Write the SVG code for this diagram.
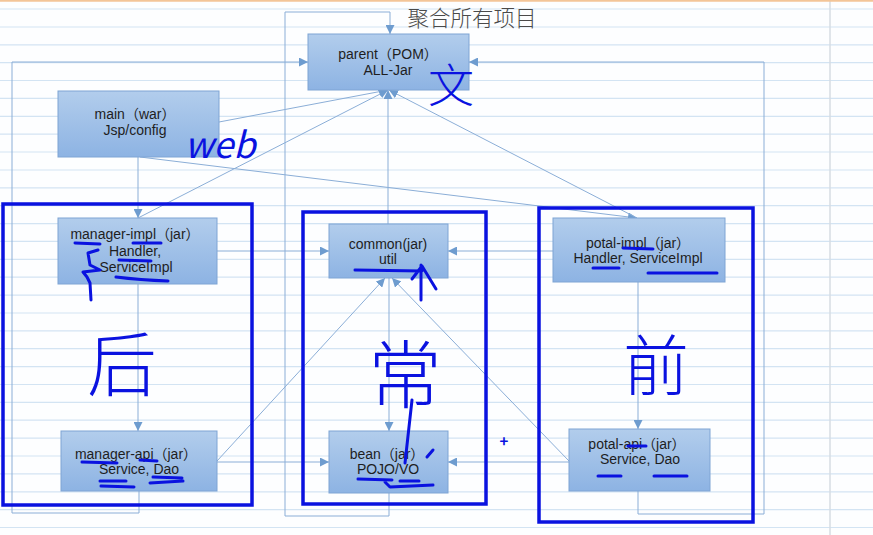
<svg xmlns="http://www.w3.org/2000/svg" width="873" height="535" viewBox="0 0 873 535">
<defs>
<linearGradient id="boxg" x1="0" y1="0" x2="0" y2="1">
<stop offset="0" stop-color="#B2CDEC"/>
<stop offset="1" stop-color="#8DB3E3"/>
</linearGradient>
<marker id="arr" markerUnits="userSpaceOnUse" markerWidth="10" markerHeight="9" refX="9" refY="4.5" orient="auto">
<path d="M0,0 L9,4.5 L0,9 z" fill="#6E9CCF"/>
</marker>
<style>
.paper{stroke:#D3E4F3;stroke-width:1.2;fill:none}
.box{fill:url(#boxg);stroke:#7EA4D4;stroke-width:1}
.t{font-family:"Liberation Sans","Noto Sans CJK SC",sans-serif;font-size:14px;fill:#1E1E1E;text-anchor:middle}
.c{fill:none;stroke:#8BAED7;stroke-width:1}
.ca{fill:none;stroke:#8BAED7;stroke-width:1;marker-end:url(#arr)}
.ink{fill:none;stroke:#0A12E0;stroke-width:3;stroke-linecap:round;stroke-linejoin:round}
.frame{fill:none;stroke:#0A12E0;stroke-width:3.5}
.hw{font-family:"Noto Sans CJK SC",sans-serif;fill:#0A12E0;text-anchor:middle}
</style>
</defs>
<rect x="0" y="0" width="873" height="535" fill="#FDFEFF"/>
<g id="paper">
<path class="paper" d="M0,9H873M0,27H873M0,44.8H873M0,62.6H873M0,80.5H873M0,98.4H873M0,116.3H873M0,134.2H873M0,152H873M0,170H873M0,187.8H873M0,205.7H873M0,223.6H873M0,241.4H873M0,259.3H873M0,277.2H873M0,295.1H873M0,313H873M0,330.8H873M0,348.7H873M0,366.6H873M0,384.5H873M0,402.4H873M0,420.2H873M0,438.1H873M0,456H873M0,473.9H873M0,491.8H873M0,509.6H873M0,527.5H873"/>
<line x1="830" y1="0" x2="830" y2="535" stroke="#D6DDE3" stroke-width="1.5"/>
<line x1="0" y1="0.8" x2="873" y2="0.8" stroke="#F3C598" stroke-width="1.8"/>
</g>
<text x="472" y="26" font-family="'Noto Sans CJK SC',sans-serif" font-size="21.5" font-weight="300" fill="#4A4A4A" text-anchor="middle">聚合所有项目</text>
<g id="connectors">
<path class="ca" d="M389,493 V516 H285 V12 H390 V34"/>
<path class="ca" d="M139,491 V513 H12 V62 H308"/>
<path class="ca" d="M638,491 V514 H764 V62 H469"/>
<path class="ca" d="M219,122 L388,90"/>
<path class="ca" d="M138,157 V218"/>
<path class="ca" d="M140,157 L637,218"/>
<path class="ca" d="M138,218 L388,90"/>
<path class="ca" d="M388,224 V90"/>
<path class="ca" d="M637,218 L389,90"/>
<path class="ca" d="M217,251 H329"/>
<path class="ca" d="M553,251 H448"/>
<path class="ca" d="M138,284 V431"/>
<path class="ca" d="M638,282 V429"/>
<path class="ca" d="M217,461 L385,278"/>
<path class="ca" d="M569,461 L392,278"/>
<path class="ca" d="M389,278 V431"/>
<path class="ca" d="M217,462 H329"/>
<path class="ca" d="M569,462 H448"/>
</g>
<g id="parent"><rect class="box" x="308" y="34" width="161" height="56"/><text class="t" x="388" y="59">parent（POM）</text><text class="t" x="388" y="75">ALL-Jar</text></g>
<g id="main"><rect class="box" x="58" y="91" width="161" height="66"/><text class="t" x="135" y="119">main（war）</text><text class="t" x="135" y="135">Jsp/config</text></g>
<g id="manager-impl"><rect class="box" x="58" y="218" width="159" height="66"/><text class="t" x="135" y="239">manager-impl（jar）</text><text class="t" x="135" y="256">Handler,</text><text class="t" x="136" y="272">ServiceImpl</text></g>
<g id="common"><rect class="box" x="329" y="224" width="119" height="54"/><text class="t" x="388" y="249">common(jar)</text><text class="t" x="388" y="264">util</text></g>
<g id="potal-impl"><rect class="box" x="553" y="218" width="172" height="64"/><text class="t" x="638" y="248">potal-impl（jar）</text><text class="t" x="638" y="263">Handler, ServiceImpl</text></g>
<g id="manager-api"><rect class="box" x="61" y="431" width="156" height="60"/><text class="t" x="136" y="459">manager-api（jar）</text><text class="t" x="139" y="474">Service, Dao</text></g>
<g id="bean"><rect class="box" x="329" y="431" width="119" height="62"/><text class="t" x="387" y="459">bean（jar）</text><text class="t" x="388" y="474">POJO/VO</text></g>
<g id="potal-api"><rect class="box" x="569" y="429" width="141" height="62"/><text class="t" x="637" y="449">potal-api（jar）</text><text class="t" x="640" y="464">Service, Dao</text></g>
<g id="annotations">
<rect class="frame" x="3" y="204" width="249" height="301"/>
<rect class="frame" x="303" y="212" width="183" height="292"/>
<rect class="frame" x="539" y="208" width="214" height="314"/>
<text class="hw" x="451" y="102" font-size="46" font-weight="300">文</text>
<text class="hw" x="220" y="158" font-size="36" font-family="'Liberation Sans',sans-serif" font-style="italic">web</text>
<text class="hw" x="122" y="391" font-size="70" font-weight="300">后</text>
<text class="hw" x="405" y="402" font-size="74" font-weight="300">常</text>
<text class="hw" x="656" y="390" font-size="66" font-weight="300">前</text>
<text class="hw" x="504" y="447" font-size="15" font-weight="700">+</text>
<path class="ink" d="M75,243 L100,244 M133,243 L161,243 M119,260 L151,261 M116,277 Q140,280 168,281"/>
<path class="ink" d="M98,250 L88,253 L90,265 L100,270 L83,272 L87,277 L90,283 L91,300"/>
<path class="ink" d="M355,270 L422,271 M421,300 V265 M412,279 L422,266 L436,289"/>
<path class="ink" d="M623,248 L653,249 M593,268 L619,268 M648,273 L717,273"/>
<path class="ink" d="M82,462 L117,463 M140,460 L157,461 M100,481 L126,481 M101,486 L134,487 M153,477 L182,478 M150,483 L183,481"/>
<path class="ink" d="M358,479 L392,480 M400,481 L419,481 M385,482 L390,487 L433,485 M412,400 L405,463 M427,457 L433,450"/>
<path class="ink" d="M628,446 L646,446 M598,476 L621,476 M654,476 L687,476"/>
</g>
</svg>
